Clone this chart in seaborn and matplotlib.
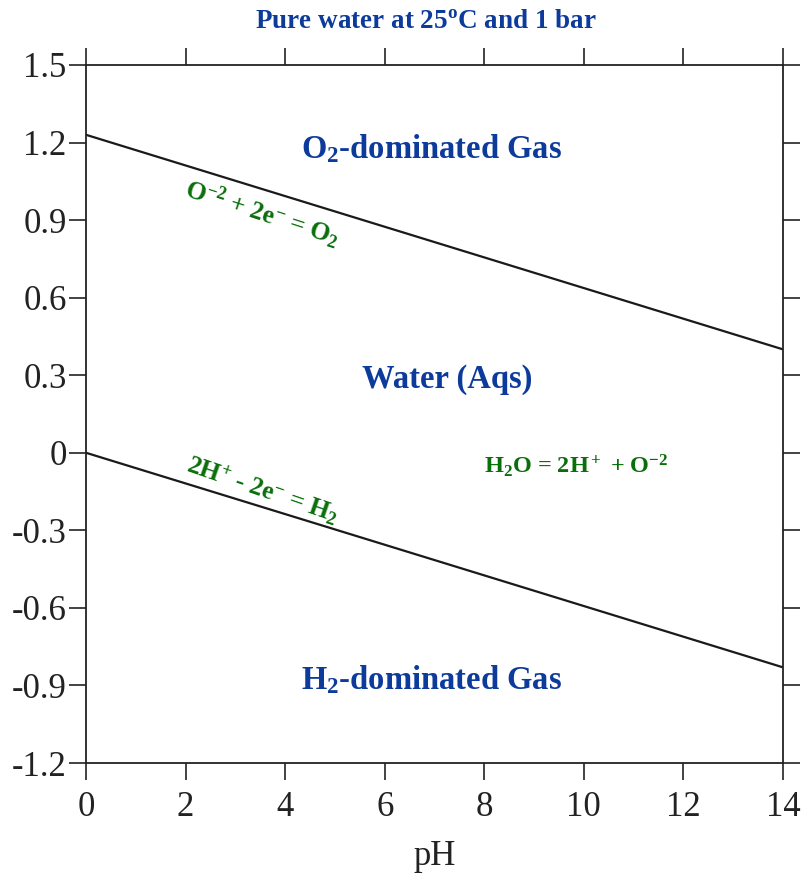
import matplotlib
matplotlib.use("Agg")
import matplotlib.pyplot as plt
import seaborn as sns
import pandas as pd

# Data
ph = [0, 14]
e_o2 = [1.23, 0.40]     # O2 / water boundary
e_h2 = [0.0, -0.83]     # water / H2 boundary
x_ticks = [0, 2, 4, 6, 8, 10, 12, 14]
y_ticks = [-1.2, -0.9, -0.6, -0.3, 0, 0.3, 0.6, 0.9, 1.2, 1.5]
y_tick_labels = ["-1.2", "-0.9", "-0.6", "-0.3", "0", "0.3", "0.6", "0.9", "1.2", "1.5"]

df = pd.DataFrame({
    "pH": ph + ph,
    "E": e_o2 + e_h2,
    "line": ["O2"] * 2 + ["H2"] * 2,
})

sns.set_theme(style="ticks")
plt.rcParams["font.family"] = ["Liberation Serif", "DejaVu Serif"]
plt.rcParams["mathtext.fontset"] = "custom"
plt.rcParams["mathtext.rm"] = "Liberation Serif:bold"
plt.rcParams["mathtext.it"] = "Liberation Serif:bold"
plt.rcParams["mathtext.bf"] = "Liberation Serif:bold"

fig = plt.figure(figsize=(8.04, 8.76), dpi=100)
ax = fig.add_axes([86 / 804, 1 - 763 / 876, (783 - 86) / 804, (763 - 65) / 876])

sns.lineplot(data=df, x="pH", y="E", hue="line", palette=["#1a1a1a", "#1a1a1a"],
             linewidth=1.6, legend=False, ax=ax)

ax.set_xlim(0, 14)
ax.set_ylim(-1.2, 1.5)
ax.set_xticks(x_ticks)
ax.set_xticklabels([str(v) for v in x_ticks])
ax.set_yticks(y_ticks)
ax.set_yticklabels(y_tick_labels)
ax.tick_params(axis="both", which="both", direction="out", length=12, width=1.2,
               color="#222222", labelsize=25, labelcolor="#222222",
               top=True, right=True, labeltop=False, labelright=False)
ax.tick_params(axis="y", pad=2)
ax.tick_params(axis="x", pad=8)
for s in ax.spines.values():
    s.set_linewidth(1.3)
    s.set_color("#222222")
    s.set_visible(True)

ax.set_xlabel("pH", fontsize=25, color="#222222", labelpad=12)
ax.set_ylabel("")

blue = "#0d3b9c"
green = "#0a6e0a"

fig.text(426 / 804, 1 - 21 / 876, "Pure water at 25$^o$C and 1 bar", ha="center", va="center",
         fontsize=19.5, fontweight="bold", color=blue)

ax.text(6.95, 1.175, "O$_2$-dominated Gas", ha="center", va="center",
        fontsize=23.5, fontweight="bold", color=blue)
ax.text(7.25, 0.285, "Water (Aqs)", ha="center", va="center",
        fontsize=23.5, fontweight="bold", color=blue)
ax.text(6.95, -0.88, "H$_2$-dominated Gas", ha="center", va="center",
        fontsize=23.5, fontweight="bold", color=blue)

ax.text(9.85, -0.05, "H$_2$O = 2H$^+$ + O$^{-2}$", ha="center", va="center",
        fontsize=17.5, fontweight="bold", color=green)
ax.text(3.55, 0.925, "O$^{-2}$ + 2e$^{-}$ = O$_2$", ha="center", va="center",
        fontsize=18.5, fontweight="bold", color=green, rotation=-18, rotation_mode="anchor")
ax.text(3.55, -0.145, "2H$^{+}$ - 2e$^{-}$ = H$_2$", ha="center", va="center",
        fontsize=18.5, fontweight="bold", color=green, rotation=-19, rotation_mode="anchor")

fig.savefig("out.png", dpi=100)
